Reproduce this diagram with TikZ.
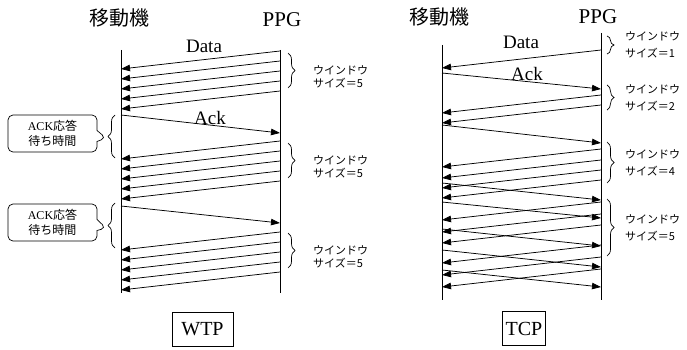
\documentclass[tikz,border=0pt]{standalone}
\usepackage{fontspec}
\setmainfont{Liberation Serif}
\newfontfamily\jp{Noto Sans CJK JP}
\usetikzlibrary{calc}
\usetikzlibrary{arrows.meta}
\usetikzlibrary{shapes.callouts}
\usetikzlibrary{decorations.pathreplacing}
\tikzset{
    every edge/.style={
        draw,
        -{Triangle[length=9pt,width=6.5pt]},
        line width=0.75pt},
    life/.style={line width=0.9pt},
    head/.style={font=\jp\fontsize{20}{24}\selectfont},
    ppg/.style={font=\rmfamily\fontsize{21}{24}\selectfont},
    msglabel/.style={font=\rmfamily\fontsize{19}{22}\selectfont},
    winbrace/.style={
        decorate,
        decoration={brace, amplitude=7pt},
        line width=0.7pt},
    winlabel/.style={
        anchor=west, align=left, inner sep=0pt,
        font=\jp\fontsize{11}{13}\selectfont},
    waitbox/.style={
        rectangle callout, draw, rounded corners=5pt,
        line width=0.7pt, callout pointer width=11pt,
        minimum width=89pt, minimum height=37pt,
        align=center, inner sep=0pt,
        font=\jp\fontsize{12}{15}\selectfont},
    proto/.style={
        draw, line width=0.7pt, minimum height=34pt,
        font=\rmfamily\fontsize{20}{22}\selectfont}}

\begin{document}
\begin{tikzpicture}[x=1pt,y=-1pt]
    \useasboundingbox (0,0) rectangle (687,350);

    % lifelines
    \coordinate (wm) at (121,0);
    \coordinate (wp) at (280,0);
    \coordinate (tm) at (442,0);
    \coordinate (tp) at (601,0);

    \node[head] (wmh) at (119,18) {移動機};
    \node[ppg] (wph) at (282,20) {PPG};
    \node[head] (tmh) at (439,17) {移動機};
    \node[ppg] (tph) at (598,17) {PPG};

    \draw[life] ($(wm)+(0,50)$) -- ($(wm)+(0,293)$);
    \draw[life] ($(wp)+(0,50)$) -- ($(wp)+(0,293)$);
    \draw[life] ($(tm)+(0,45)$) -- ($(tm)+(0,300)$);
    \draw[life] ($(tp)+(0,33)$) -- ($(tp)+(0,300)$);

    % WTP: five data, then one ack
    \foreach \s in {51,141,232}
        \foreach \i in {0,...,4}
            \draw ($(wp)+(0,\s+10*\i)$) edge ($(wm)+(0,\s+18+10*\i)$);
    \draw ($(wm)+(0,115)$) edge ($(wp)+(0,133)$);
    \draw ($(wm)+(0,206)$) edge ($(wp)+(0,223)$);
    \node[msglabel] (wdata) at (204,46) {Data};
    \node[msglabel] (wack) at (210,118) {Ack};

    \foreach \a/\b/\n in {53/88/1,143/178/2,233/268/3}{
        \draw[winbrace] ($(wp)+(8,\a)$) -- ($(wp)+(8,\b)$);
        \node[winlabel] (wwin\n) at (313,{(\a+\b)/2+6}) {ウインドウ\\サイズ＝5};
    }

    \draw[winbrace] ($(wm)+(-6,158)$) -- ($(wm)+(-6,115)$);
    \draw[winbrace] ($(wm)+(-6,248)$) -- ($(wm)+(-6,203)$);
    \node[waitbox, callout absolute pointer={(106,138)}] (wait1) at (52.5,133.5)
        {{\rmfamily ACK}応答\\待ち時間};
    \node[waitbox, callout absolute pointer={(106,228)}] (wait2) at (52.5,222.5)
        {{\rmfamily ACK}応答\\待ち時間};

    % TCP: window grows 1, 2, 4, 5
    \foreach \s in {50,95,105,149,160,170,180,202,214,225,245,257,269}
        \draw ($(tp)+(0,\s)$) edge ($(tm)+(0,\s+18)$);
    \foreach \s/\e in {73/89,125/143,183/200,202/218,229/246,250/267,270/287}
        \draw ($(tm)+(0,\s)$) edge ($(tp)+(0,\e)$);
    \node[msglabel] (tdata) at (521,42) {Data};
    \node[msglabel] (tack) at (527,74) {Ack};

    \foreach \a/\b/\w in {36/54/1,85/110/2,142/183/4,199/256/5}{
        \draw[winbrace] ($(tp)+(6,\a)$) -- ($(tp)+(6,\b)$);
        \node[winlabel, font=\jp\fontsize{11}{17}\selectfont] (twin\w) at (625,{(\a+\b)/2}) {ウインドウ\\サイズ＝\w};
    }

    \node[proto, minimum width=61pt] (wtp) at (202.5,329.5) {WTP};
    \node[proto, minimum width=42pt] (tcp) at (524,328.5) {TCP};
\end{tikzpicture}
\end{document}
